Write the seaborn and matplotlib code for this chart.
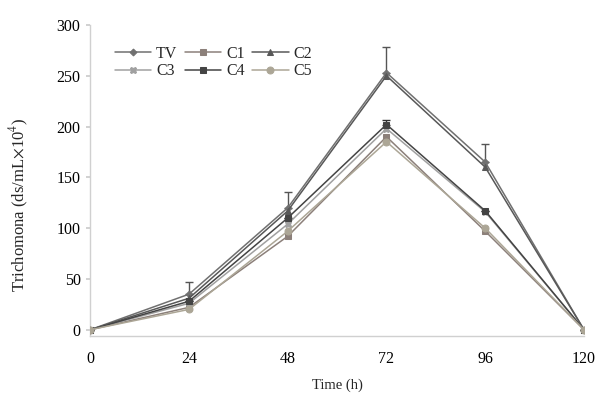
import pandas as pd
import numpy as np
import seaborn as sns
import matplotlib.pyplot as plt

time_h = [0, 24, 48, 72, 96, 120]
tv = [0, 35, 120, 253, 165, 0]
c1 = [0, 22, 92, 190, 97, 0]
c2 = [0, 31, 117, 250, 160, 0]
c3 = [0, 26, 104, 198, 116, 0]
c4 = [0, 28, 110, 202, 117, 0]
c5 = [0, 20, 97, 185, 100, 0]
tv_err = [0, 12, 16, 25, 18, 0]
c4_err = [0, 0, 0, 4, 0, 0]

groups = ['TV', 'C1', 'C2', 'C3', 'C4', 'C5']
vals = [tv, c1, c2, c3, c4, c5]

df = pd.DataFrame({
    'time': time_h * len(groups),
    'count': sum(vals, []),
    'group': np.repeat(groups, len(time_h)),
})

sns.set_theme(style='white')
plt.rcParams['font.family'] = ['Liberation Serif', 'DejaVu Serif']
plt.rcParams['mathtext.fontset'] = 'stix'

colors = {'TV': '#707070', 'C1': '#8c807a', 'C2': '#585858',
          'C3': '#a0a0a0', 'C4': '#444444', 'C5': '#aca696'}
marks = {'TV': 'D', 'C1': 's', 'C2': '^', 'C3': 'X', 'C4': 's', 'C5': 'o'}
msize = {'TV': 3.5, 'C1': 5, 'C2': 5, 'C3': 4.5, 'C4': 4, 'C5': 5}

fig = plt.figure(figsize=(6.02, 3.96), dpi=100)
ax = fig.add_axes([0.150, 0.152, 0.820, 0.785])

for g in groups:
    sub = df[df['group'] == g]
    sns.lineplot(data=sub, x='time', y='count', ax=ax, color=colors[g],
                 marker=marks[g], markersize=msize[g], linewidth=1.1,
                 markeredgecolor=colors[g], label=g, zorder=3)

ax.errorbar(time_h, tv, yerr=[np.zeros(6), tv_err], fmt='none',
            ecolor='#555555', elinewidth=1, capsize=3, zorder=2)
ax.errorbar(time_h, c4, yerr=[np.zeros(6), c4_err], fmt='none',
            ecolor='#333333', elinewidth=1, capsize=3, zorder=2)

ax.set_xlim(0, 120)
ax.set_ylim(-6, 300)
ax.set_xticks([0, 24, 48, 72, 96, 120])
ax.set_yticks([0, 50, 100, 150, 200, 250, 300])
ax.tick_params(axis='both', labelsize=11.5, colors='#000000')
ax.tick_params(axis='y', length=3, color='#cccccc', left=True, pad=4)
ax.tick_params(axis='x', length=0, pad=11)
ax.set_xlabel('Time (h)', fontsize=10.5, labelpad=8)
ax.set_ylabel(r'Trichomona (ds/mL$\times$10$^4$)', fontsize=12)
ax.yaxis.set_label_coords(-0.12, 0.42)

for s in ['top', 'right']:
    ax.spines[s].set_visible(False)
for s in ['left', 'bottom']:
    ax.spines[s].set_color('#d0d0d0')
    ax.spines[s].set_linewidth(1)

# legend rows: TV C1 C2 / C3 C4 C5 (matplotlib fills by column)
handles, labels = ax.get_legend_handles_labels()
order = [0, 3, 1, 4, 2, 5]
ax.legend([handles[i] for i in order], [labels[i] for i in order],
          ncol=3, loc='upper left', bbox_to_anchor=(0.02, 0.98), frameon=False,
          fontsize=11.5, handlelength=2.3, columnspacing=0.45, handletextpad=0.3,
          labelspacing=0.1)

fig.savefig('out.png', dpi=100)
